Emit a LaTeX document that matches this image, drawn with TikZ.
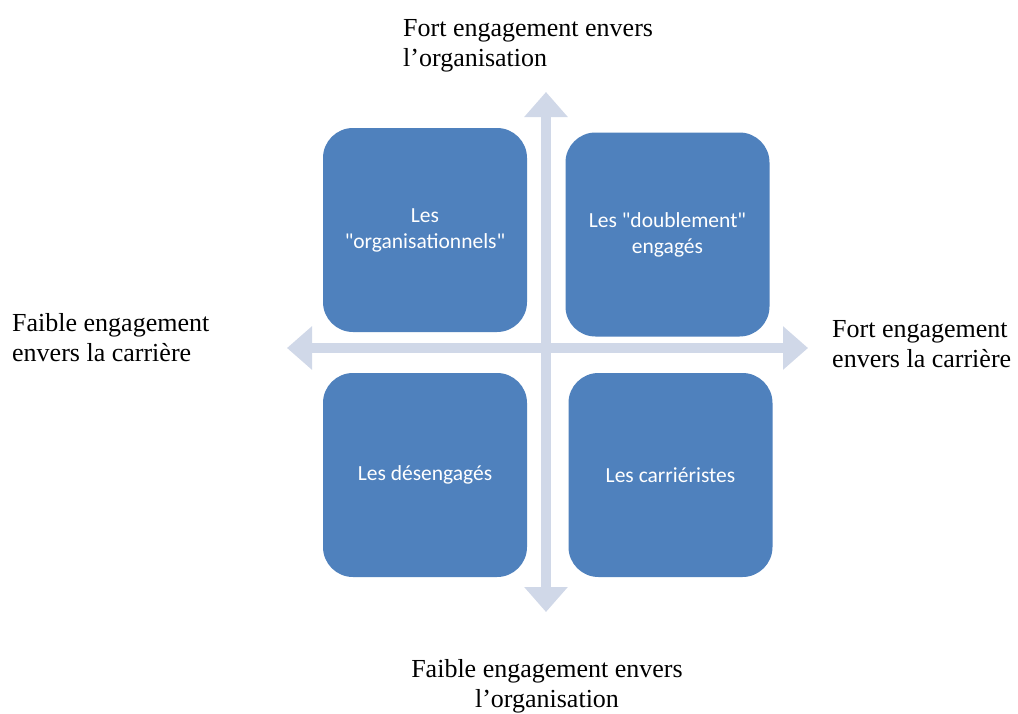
\documentclass[tikz,border=0pt]{standalone}
\usepackage{fontspec}
\setmainfont{Liberation Serif}
\newfontfamily\boxfont{Carlito}
\usetikzlibrary{arrows.meta}
\definecolor{boxblue}{HTML}{4F81BD}
\definecolor{axisgray}{HTML}{D0D8E8}
\begin{document}
\begin{tikzpicture}[x=1pt,y=-1pt,
  quad/.style={fill=boxblue, draw=none, rounded corners=30pt, minimum width=204pt, minimum height=204pt, inner sep=0pt, text=white, align=center, font=\boxfont\fontsize{21.5}{26}\selectfont},
  axislabel/.style={inner sep=0pt, font=\fontsize{26}{30}\selectfont},
  axis/.style={draw=axisgray, line width=10pt, {Triangle[width=42pt,length=25pt]}-{Triangle[width=42pt,length=25pt]}}]
\useasboundingbox (0,0) rectangle (1018,713);
\fill[white] (0,0) rectangle (1018,713);
% axes
\coordinate (vt) at (546,92);
\coordinate (vb) at (546,612);
\coordinate (hl) at (287,348);
\coordinate (hr) at (808,348);
\draw[axis] (vb) -- (vt);
\draw[axis] (hl) -- (hr);
% quadrants
\node[quad] (tl) at (425,230) {Les\\"organisationnels"};
\node[quad] (tr) at (667.5,234.5) {Les "doublement"\\engagés};
\node[quad] (bl) at (425,475) {Les désengagés};
\node[quad] (br) at (670.5,475) {Les carriéristes};
% labels
\node[axislabel, anchor=north west, align=left] (top) at (403,19) {Fort engagement envers\\l’organisation};
\node[axislabel, anchor=north west, align=left] (left) at (12,313) {Faible engagement\\envers la carrière};
\node[axislabel, anchor=north west, align=left] (right) at (832,320) {Fort engagement\\envers la carrière};
\node[axislabel, anchor=north, align=center] (bottom) at (547,659) {Faible engagement envers\\l’organisation};
\end{tikzpicture}
\end{document}
